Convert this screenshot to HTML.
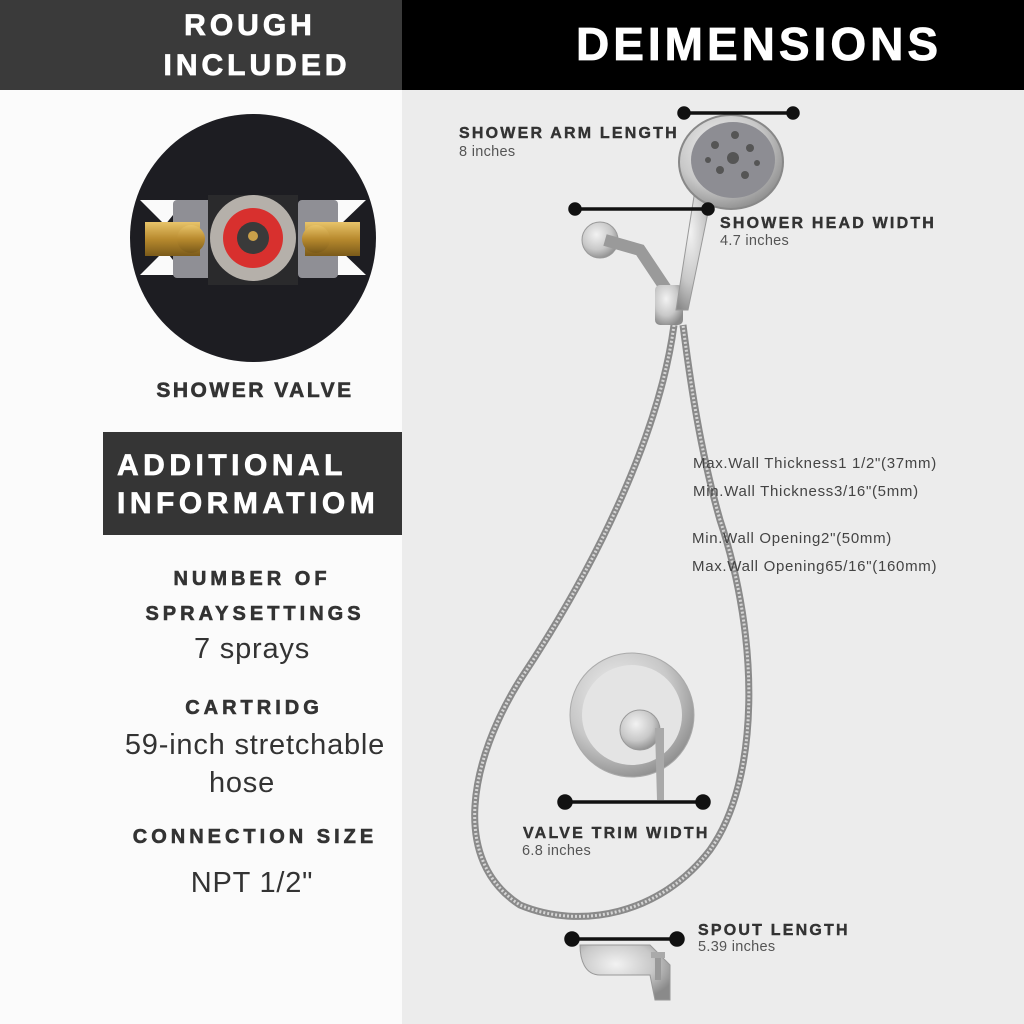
<!DOCTYPE html>
<html><head><meta charset="utf-8"><style>
html,body{margin:0;padding:0;}
body{width:1024px;height:1024px;overflow:hidden;background:#fff;}
svg{display:block;font-family:"Liberation Sans",sans-serif;}
</style></head><body>
<svg width="1024" height="1024" viewBox="0 0 1024 1024" xmlns="http://www.w3.org/2000/svg">
<defs>
<radialGradient id="met" cx="40%" cy="35%" r="70%"><stop offset="0" stop-color="#f2f2f2"/><stop offset="0.6" stop-color="#c8c8c8"/><stop offset="1" stop-color="#8a8a8a"/></radialGradient>
<linearGradient id="brass" x1="0" y1="0" x2="0" y2="1"><stop offset="0" stop-color="#e8c46a"/><stop offset="0.5" stop-color="#b88a2e"/><stop offset="1" stop-color="#7a5a1a"/></linearGradient>
</defs>
<rect x="0" y="0" width="402" height="1024" fill="#fbfbfb"/>
<rect x="402" y="0" width="622" height="1024" fill="#ececec"/>
<rect x="0" y="0" width="402" height="90" fill="#3a3a3a"/>
<rect x="402" y="0" width="622" height="90" fill="#000"/>
<g fill="#fff" stroke="#fff" stroke-width="0.8" font-weight="bold" text-anchor="middle">
<text x="250" y="35" font-size="30" letter-spacing="4">ROUGH</text>
<text x="257" y="75" font-size="30" letter-spacing="4">INCLUDED</text>
<text x="759" y="60" font-size="46" letter-spacing="4">DEIMENSIONS</text>
</g>

<!-- valve image -->
<ellipse cx="253" cy="238" rx="123" ry="124" fill="#1d1d22"/>
<path d="M140 200 L185 200 L165 225 Z M140 275 L185 275 L165 250 Z M366 200 L320 200 L340 225 Z M366 275 L320 275 L340 250 Z" fill="#fafafa"/>
<rect x="173" y="200" width="40" height="78" fill="#8f8f95" rx="4"/>
<rect x="298" y="200" width="40" height="78" fill="#8f8f95" rx="4"/>
<rect x="145" y="222" width="55" height="34" fill="url(#brass)"/>
<rect x="305" y="222" width="55" height="34" fill="url(#brass)"/>
<circle cx="191" cy="239" r="14" fill="url(#brass)"/>
<circle cx="316" cy="239" r="14" fill="url(#brass)"/>
<rect x="208" y="195" width="90" height="90" fill="#2a2a2c"/>
<circle cx="253" cy="238" r="43" fill="#b5b0aa"/>
<circle cx="253" cy="238" r="30" fill="#d8302e"/>
<circle cx="253" cy="238" r="16" fill="#3a3a3a"/>
<circle cx="253" cy="236" r="5" fill="#c9a04a"/>
<text x="255" y="397" text-anchor="middle" fill="#333" stroke="#333" stroke-width="0.6" font-size="21" font-weight="bold" letter-spacing="2.5">SHOWER VALVE</text>

<rect x="103" y="432" width="299" height="103" fill="#353535"/>
<g fill="#fff" stroke="#fff" stroke-width="0.7" font-size="30" font-weight="bold" letter-spacing="4.5">
<text x="117" y="475">ADDITIONAL</text>
<text x="117" y="513">INFORMATIOM</text>
</g>

<g fill="#333" stroke="#333" stroke-width="0.6" font-weight="bold" font-size="20" text-anchor="middle" letter-spacing="4">
<text x="252" y="585">NUMBER OF</text>
<text x="255" y="620">SPRAYSETTINGS</text>
<text x="254" y="714">CARTRIDG</text>
<text x="255" y="843">CONNECTION SIZE</text>
</g>
<g fill="#333" font-size="29" text-anchor="middle" letter-spacing="0.8">
<text x="252" y="658">7 sprays</text>
<text x="255" y="754">59-inch stretchable</text>
<text x="242" y="792">hose</text>
<text x="252" y="892">NPT 1/2"</text>
</g>

<!-- hose -->
<path d="M674 325 C660 430 600 560 520 680 C470 760 450 860 520 905 C580 930 660 915 710 850 C760 780 760 640 720 520 C700 450 690 380 683 325" fill="none" stroke="#8a8a8a" stroke-width="7"/>
<path d="M674 325 C660 430 600 560 520 680 C470 760 450 860 520 905 C580 930 660 915 710 850 C760 780 760 640 720 520 C700 450 690 380 683 325" fill="none" stroke="#d5d5d5" stroke-width="3" stroke-dasharray="2 2"/>

<!-- arm -->
<circle cx="600" cy="240" r="18" fill="url(#met)" stroke="#999"/>
<path d="M605 240 L640 250 L670 295" fill="none" stroke="#9a9a9a" stroke-width="12"/>
<rect x="655" y="285" width="28" height="40" fill="url(#met)" rx="5"/>
<!-- handle -->
<path d="M695 190 L712 193 L688 310 L676 310 Z" fill="url(#met)" stroke="#999"/>
<ellipse cx="731" cy="162" rx="52" ry="47" fill="url(#met)" stroke="#888" stroke-width="2"/>
<ellipse cx="733" cy="160" rx="42" ry="38" fill="#8d8d93"/>
<g fill="#555">
<circle cx="715" cy="145" r="4"/><circle cx="735" cy="135" r="4"/><circle cx="750" cy="148" r="4"/><circle cx="720" cy="170" r="4"/><circle cx="745" cy="175" r="4"/><circle cx="733" cy="158" r="6"/><circle cx="757" cy="163" r="3"/><circle cx="708" cy="160" r="3"/>
</g>

<!-- valve trim -->
<circle cx="632" cy="715" r="62" fill="url(#met)" stroke="#aaa"/>
<circle cx="632" cy="715" r="50" fill="#e4e4e4"/>
<circle cx="640" cy="730" r="20" fill="url(#met)" stroke="#999"/>
<path d="M655 728 L664 728 L664 800 L657 800 Z" fill="#a9a9a9"/>
<!-- spout -->
<path d="M580 945 L650 945 L670 965 L670 1000 L655 1000 L650 975 L600 975 C585 975 580 960 580 945 Z" fill="url(#met)" stroke="#999"/>
<rect x="655" y="955" width="6" height="25" fill="#999"/>
<rect x="651" y="952" width="14" height="6" fill="#aaa"/>

<!-- dimension lines -->
<g stroke="#111" stroke-width="3.5" fill="#111">
<line x1="684" y1="113" x2="793" y2="113"/><circle cx="684" cy="113" r="5"/><circle cx="793" cy="113" r="5"/>
<line x1="575" y1="209" x2="708" y2="209"/><circle cx="575" cy="209" r="5"/><circle cx="708" cy="209" r="5"/>
<line x1="565" y1="802" x2="703" y2="802"/><circle cx="565" cy="802" r="6"/><circle cx="703" cy="802" r="6"/>
<line x1="572" y1="939" x2="677" y2="939"/><circle cx="572" cy="939" r="6"/><circle cx="677" cy="939" r="6"/>
</g>

<g fill="#333" stroke="#333" stroke-width="0.4" font-weight="bold" font-size="16" letter-spacing="2.2">
<text x="459" y="138">SHOWER ARM LENGTH</text>
<text x="720" y="228">SHOWER HEAD WIDTH</text>
<text x="523" y="838">VALVE TRIM WIDTH</text>
<text x="698" y="935">SPOUT LENGTH</text>
</g>
<g fill="#555" font-size="14.5" letter-spacing="0.3">
<text x="459" y="156">8 inches</text>
<text x="720" y="245">4.7 inches</text>
<text x="522" y="855">6.8 inches</text>
<text x="698" y="951">5.39 inches</text>
</g>
<g fill="#444" font-size="15" letter-spacing="0.7">
<text x="693" y="468">Max.Wall Thickness1 1/2"(37mm)</text>
<text x="693" y="496">Min.Wall Thickness3/16"(5mm)</text>
<text x="692" y="543">Min.Wall Opening2"(50mm)</text>
<text x="692" y="571">Max.Wall Opening65/16"(160mm)</text>
</g>
</svg>
</body></html>
